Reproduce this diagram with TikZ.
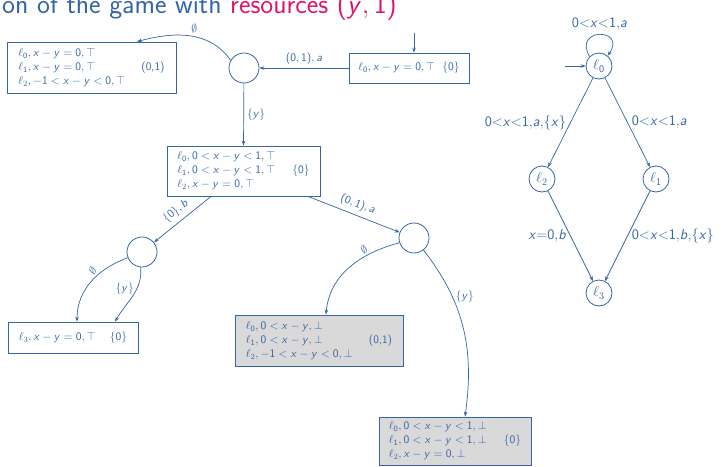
\RequirePackage{fix-cm}
\documentclass[tikz,border=0pt]{standalone}
\usepackage{amssymb}
\usetikzlibrary{arrows.meta}

% sans-serif letters and digits in formulas
\DeclareSymbolFont{sfup}{OT1}{cmss}{m}{n}
\DeclareSymbolFont{sfit}{OT1}{cmss}{m}{sl}
\DeclareMathSymbol{a}{\mathalpha}{sfit}{`a}
\DeclareMathSymbol{b}{\mathalpha}{sfit}{`b}
\DeclareMathSymbol{x}{\mathalpha}{sfit}{`x}
\DeclareMathSymbol{y}{\mathalpha}{sfit}{`y}
\DeclareMathSymbol{0}{\mathalpha}{sfup}{`0}
\DeclareMathSymbol{1}{\mathalpha}{sfup}{`1}
\DeclareMathSymbol{(}{\mathopen}{sfup}{`(}
\DeclareMathSymbol{)}{\mathclose}{sfup}{`)}
\DeclareMathSymbol{=}{\mathrel}{sfup}{`=}

\definecolor{myblue}{RGB}{52,101,164}
\definecolor{alertcol}{RGB}{222,20,105}

% configuration box: three rows of locations, with a resource tag on the middle row
\newcommand{\cfgrows}[5]{%
  \begin{tabular}{@{}p{#1pt}@{}l@{}}
    $#2$ & \\
    $#3$ & #5\\
    $#4$ &
  \end{tabular}}

\begin{document}
\begin{tikzpicture}[x=1pt,y=1pt,
  txt/.style={font=\sffamily\fontsize{11.5}{14}\selectfont, text=myblue},
  big/.style={font=\sffamily\fontsize{14.5}{17}\selectfont, text=myblue},
  cfg/.style={txt, draw=myblue, line width=0.8pt, rectangle, inner sep=0pt},
  cfggray/.style={cfg, fill=black!15},
  pick/.style={circle, draw=myblue, line width=0.8pt, minimum size=30pt, inner sep=0pt},
  loc/.style={big, circle, draw=myblue, line width=0.8pt, minimum size=26pt, inner sep=0pt},
  arr/.style={draw=myblue, line width=0.7pt, -{Stealth[length=5pt,width=3.6pt]}},
  elab/.style={txt, inner sep=3pt},
  slab/.style={txt, inner sep=4.5pt, sloped, above},
  alab/.style={big, inner sep=4pt}]
\useasboundingbox (0,0) rectangle (725,-466);

% heading
\node[anchor=base east, font=\sffamily\fontsize{27.5}{32}\selectfont, text=myblue, inner sep=0pt]
  (title) at (397,-13) {on of the game with \textcolor{alertcol}{resources $(y,1)$}};

% game configurations
\node[cfg, minimum width=169pt, minimum height=51pt] (A) at (91.5,-67.5)
  {\cfgrows{123}{\ell_0, x-y=0, \top}{\ell_1, x-y=0, \top}{\ell_2, -1<x-y<0, \top}{(0,1)}};
\node[cfg, minimum width=120pt, minimum height=30pt] (B) at (409,-68)
  {\begin{tabular}{@{}p{84pt}@{}l@{}}$\ell_0, x-y=0, \top$ & $\{0\}$\end{tabular}};
\node[cfg, minimum width=153pt, minimum height=50pt] (C) at (243.5,-171)
  {\cfgrows{115}{\ell_0, 0<x-y<1, \top}{\ell_1, 0<x-y<1, \top}{\ell_2, x-y=0, \top}{$\{0\}$}};
\node[cfg, minimum width=130pt, minimum height=31pt] (D) at (73,-337.5)
  {\begin{tabular}{@{}p{91pt}@{}l@{}}$\ell_3, x-y=0, \top$ & $\{0\}$\end{tabular}};
\node[cfggray, minimum width=168pt, minimum height=51pt] (E) at (319,-340.5)
  {\cfgrows{123}{\ell_0, 0<x-y, \bot}{\ell_1, 0<x-y, \bot}{\ell_2, -1<x-y<0, \bot}{(0,1)}};
\node[cfggray, minimum width=152pt, minimum height=48pt] (F) at (455,-441)
  {\cfgrows{115}{\ell_0, 0<x-y<1, \bot}{\ell_1, 0<x-y<1, \bot}{\ell_2, x-y=0, \bot}{$\{0\}$}};

% choice points
\node[pick] (C1) at (244,-68) {};
\node[pick] (C2) at (142,-252) {};
\node[pick] (C3) at (414,-238) {};

% game moves
\coordinate (binit) at (414,-33);
\draw[arr] (binit) -- (binit |- B.north);
\draw[arr] (B.west) -- node[elab, above] {$(0,1), a$} (C1);
\draw[arr] (C1.150) to[out=125, in=15] node[elab, above, pos=0.45] {$\emptyset$} ([xshift=45.5pt]A.north);
\draw[arr] (C1) -- node[elab, right] {$\{y\}$} (C.north);
\draw[arr] ([xshift=-32.5pt]C.south) -- node[slab] {$\{0\}, b$} (C2);
\draw[arr] ([xshift=64.5pt]C.south) -- node[slab] {$(0,1), a$} (C3);
\draw[arr] (C2.202) to[out=200, in=90] node[txt, sloped, above, inner sep=1.5pt, pos=0.4] {$\emptyset$} ([xshift=4pt]D.north);
\draw[arr] (C2.265) to[out=-85, in=60] node[elab, left, pos=0.35] {$\{y\}$} ([xshift=42pt]D.north);
\draw[arr] (C3.198) to[out=195, in=85] node[txt, sloped, above, inner sep=1.5pt, pos=0.3] {$\emptyset$} ([xshift=7pt]E.north);
\draw[arr] (C3.-52) to[out=-52, in=82] node[elab, right, pos=0.3] {$\{y\}$} ([xshift=10pt]F.north);

% timed automaton
\node[loc] (L0) at (599,-66) {$\ell_0$};
\node[loc] (L2) at (542,-179) {$\ell_2$};
\node[loc] (L1) at (656,-179) {$\ell_1$};
\node[loc] (L3) at (599,-293) {$\ell_3$};
\coordinate (linit) at (565,-66);
\draw[arr] (linit) -- (L0);
\draw[arr] (L0.135) .. controls +(120:34) and +(55:34) .. node[alab, above] {$0{<}x{<}1{,}a$} (L0.50);
\draw[arr] (L0) -- node[alab, left] {$0{<}x{<}1{,}a{,}\{x\}$} (L2);
\draw[arr] (L0) -- node[alab, right] {$0{<}x{<}1{,}a$} (L1);
\draw[arr] (L2) -- node[alab, left] {$x{=}0{,}b$} (L3);
\draw[arr] (L1) -- node[alab, right] {$0{<}x{<}1{,}b{,}\{x\}$} (L3);
\end{tikzpicture}
\end{document}
